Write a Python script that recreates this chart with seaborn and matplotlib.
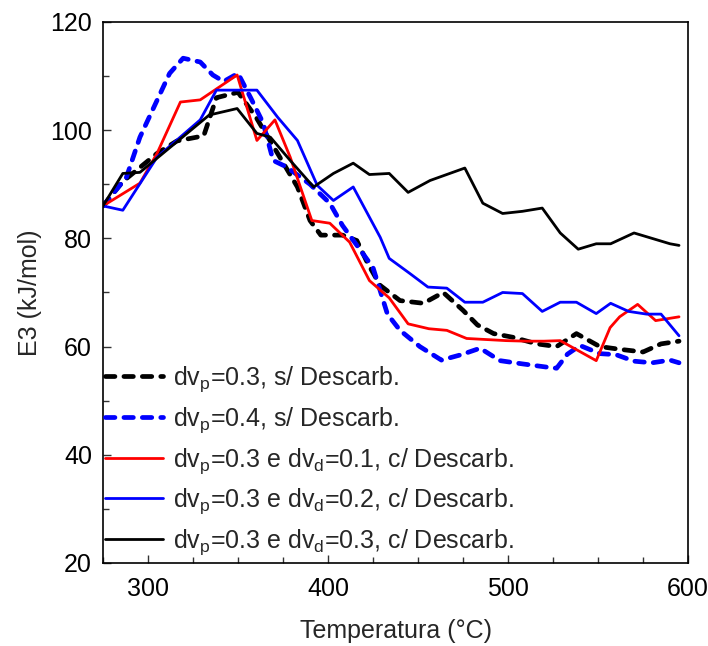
import numpy as np
import pandas as pd
import matplotlib
matplotlib.use("Agg")
import matplotlib.pyplot as plt
import seaborn as sns

# ---- data ----
x_s03 = [275, 286, 305, 316, 327, 331, 338, 350, 360, 372, 383, 390, 396, 408, 416, 422, 429, 440, 453,
         464, 475, 483, 492, 503, 516, 527, 538, 551, 562, 575, 585, 595]
y_s03 = [86, 90.5, 95.7, 98.0, 98.7, 99.0, 106, 107, 102.4, 95.7, 89.5, 83.3, 80.6, 80.6, 79.6, 75.4, 71.3,
         68.5, 68, 70, 66.7, 64, 62.4, 61.7, 60.5, 60, 62.4, 60, 59.5, 59, 60.5, 61]

x_s04 = [275, 288, 295.5, 305, 312, 319.5, 329, 336, 342, 350, 357, 364, 369.5, 377, 390, 401, 408, 425,
         433, 440, 451, 463, 474, 484.5, 495.5, 508, 521.6, 527, 533, 540, 551, 560, 570, 580, 590, 595]
y_s04 = [86, 91.3, 98.7, 105.5, 110.5, 113.3, 112.6, 110.2, 109, 110.5, 106, 101.3, 94.4, 93.2, 90, 86.5,
         82.4, 74.6, 66, 63, 60, 57.5, 58.5, 59.7, 57.4, 56.8, 56.2, 56, 58.6, 60.2, 58.7, 58.5, 57.3, 57,
         57.5, 57]

x_d01 = [275, 295.5, 305, 318, 329, 349.5, 360.5, 370.5, 379, 391, 401, 412, 423, 434, 444.5, 456, 466,
         477, 488, 499, 510, 520, 529, 549, 556.7, 562, 572, 582, 595]
y_d01 = [86, 90.2, 95.7, 105.2, 105.6, 110.2, 98.1, 101.9, 95, 83.3, 82.8, 79.3, 72.2, 69, 64.2, 63.3, 63,
         61.5, 61.3, 61.1, 61, 61, 61.1, 57.4, 63.5, 65.5, 67.8, 64.8, 65.5]

x_d02 = [275, 286, 305, 329, 338, 360.5, 372, 383, 394, 403, 414, 429, 434, 445.5, 455.5, 466, 476, 486,
         497, 508, 519, 529, 538, 549, 557, 567, 577, 585, 595]
y_d02 = [86, 85.2, 95, 101.9, 107.4, 107.4, 102.4, 98.1, 89.8, 87, 89.5, 80.2, 76.3, 73.5, 71, 70.8, 68.2,
         68.2, 70, 69.8, 66.5, 68.2, 68.2, 66.1, 68, 66.5, 66, 66, 62]

x_d03 = [275, 286, 295.5, 334, 349.5, 360.5, 368, 379, 392, 403, 414, 423, 434, 444.5, 456.7, 476, 486,
         497, 508, 519, 529, 539, 549, 557, 570, 580, 590, 595]
y_d03 = [86, 92, 92.2, 102.8, 104, 99.4, 98.7, 94.4, 89.5, 92, 93.9, 91.8, 92, 88.5, 90.7, 93, 86.5,
         84.6, 85, 85.6, 81, 78, 79, 79, 81, 80, 79, 78.7]

labels = [r"dv$_\mathregular{p}$=0.3, s/ Descarb.",
          r"dv$_\mathregular{p}$=0.4, s/ Descarb.",
          r"dv$_\mathregular{p}$=0.3 e dv$_\mathregular{d}$=0.1, c/ Descarb.",
          r"dv$_\mathregular{p}$=0.3 e dv$_\mathregular{d}$=0.2, c/ Descarb.",
          r"dv$_\mathregular{p}$=0.3 e dv$_\mathregular{d}$=0.3, c/ Descarb."]
xs = [x_s03, x_s04, x_d01, x_d02, x_d03]
ys = [y_s03, y_s04, y_d01, y_d02, y_d03]
colors = ["black", "#0000ff", "#ff0000", "#0000ff", "black"]
dashed = [True, True, False, False, False]

x_ticks = [300, 400, 500, 600]
y_ticks = [20, 40, 60, 80, 100, 120]

# ---- plot ----
sns.set_style("ticks")
plt.rcParams['font.family'] = ['Liberation Sans', 'DejaVu Sans']
plt.rcParams['mathtext.fontset'] = 'custom'
plt.rcParams['mathtext.rm'] = 'Liberation Sans'

FS = 18
fig = plt.figure(figsize=(7.08, 6.46), dpi=100)
ax = fig.add_axes([0.1455, 0.1285, 0.8263, 0.8375])

for xv, yv, lab, c, d in zip(xs, ys, labels, colors, dashed):
    df = pd.DataFrame({"T": xv, "E": yv})
    if d:
        sns.lineplot(data=df, x="T", y="E", ax=ax, color=c, lw=3.4, label=lab,
                     sort=False, estimator=None)
        l = ax.lines[-1]
        l.set_dashes((2.0, 1.9))
        l.set_dash_capstyle("round")
    else:
        sns.lineplot(data=df, x="T", y="E", ax=ax, color=c, lw=2.0, label=lab,
                     sort=False, estimator=None)

ax.set_xlim(275, 600)
ax.set_ylim(20, 120)
ax.set_xticks(x_ticks)
ax.set_yticks(y_ticks)
ax.set_xticks(np.arange(275, 601, 25), minor=True)
ax.set_yticks(np.arange(20, 121, 10), minor=True)
ax.tick_params(axis="both", which="both", direction="in", labelsize=FS, width=1, colors="#333333",
               labelcolor="black")
ax.tick_params(which="major", length=6)
ax.tick_params(which="minor", length=4)
ax.tick_params(axis="x", pad=10)
ax.tick_params(axis="y", pad=8)
for s in ax.spines.values():
    s.set_linewidth(1.2)
    s.set_color("black")

ax.set_xlabel("Temperatura (°C)", fontsize=FS, labelpad=13)
ax.set_ylabel("E3 (kJ/mol)", fontsize=FS, labelpad=6)

leg = ax.legend(loc="upper left", bbox_to_anchor=(-0.005, 0.376), frameon=False, fontsize=FS,
                handlelength=2.3, handletextpad=0.4, labelspacing=0.44, borderaxespad=0.0,
                borderpad=0.2)

fig.savefig("out.png", dpi=100)
